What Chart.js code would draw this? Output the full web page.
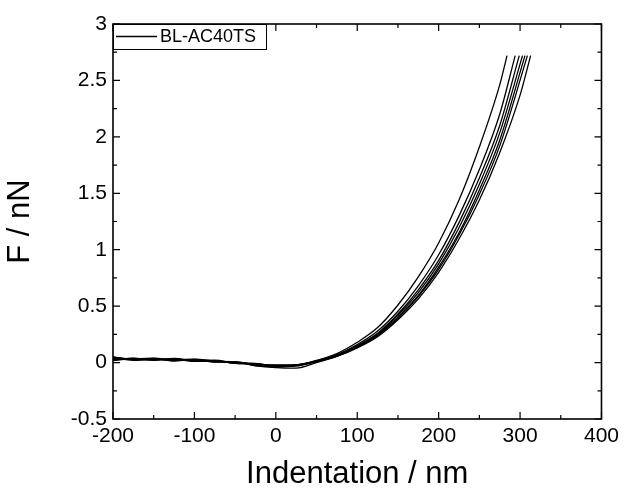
<!DOCTYPE html>
<html>
<head>
<meta charset="utf-8">
<script src="https://cdn.jsdelivr.net/npm/chart.js@4"></script>
<style>
  body { margin: 0; background: #fff; }
  #wrap { width: 624px; height: 493px; }
</style>
</head>
<body>
<div id="wrap"><canvas id="chart" width="624" height="493"></canvas></div>
<script>
// indentation grid (nm), shared by all curves
const X_GRID = [-200, -175, -150, -125, -100, -75, -50, -25, 0, 25, 50, 75, 100, 125, 150, 175, 200, 225, 250, 275, 300];

// force (nN) per curve
const CURVE_A = [0.045, 0.03, 0.04, 0.025, 0.03, 0.012, 0.005, -0.015, -0.02, -0.02, 0.02, 0.08, 0.18, 0.31, 0.51, 0.76, 1.06, 1.44, 1.91, 2.46];
const CURVE_B = [0.02, 0.04, 0.02, 0.035, 0.012, 0.022, -0.004, -0.008, -0.035, -0.02, 0.015, 0.07, 0.16, 0.28, 0.455, 0.68, 0.955, 1.30, 1.71, 2.20];
const CURVE_C = [0.05, 0.025, 0.035, 0.015, 0.028, 0.006, 0.002, -0.026, -0.03, -0.025, 0.013, 0.065, 0.15, 0.26, 0.43, 0.645, 0.905, 1.24, 1.635, 2.10];
const CURVE_D = [0.025, 0.038, 0.022, 0.03, 0.01, 0.018, -0.008, -0.012, -0.04, -0.03, 0.01, 0.06, 0.145, 0.25, 0.42, 0.62, 0.875, 1.195, 1.58, 2.035];
const CURVE_E = [0.04, 0.02, 0.03, 0.02, 0.026, 0.004, 0.004, -0.028, -0.045, -0.05, 0.0, 0.058, 0.14, 0.245, 0.405, 0.595, 0.845, 1.15, 1.53, 1.97];
const CURVE_F = [0.018, 0.035, 0.038, 0.016, 0.024, 0.016, -0.006, -0.01, -0.025, -0.02, 0.01, 0.057, 0.135, 0.24, 0.39, 0.585, 0.825, 1.13, 1.49, 1.92];
const CURVE_G = [0.048, 0.028, 0.024, 0.036, 0.014, 0.01, 0.008, -0.022, -0.036, -0.03, 0.008, 0.054, 0.13, 0.23, 0.38, 0.565, 0.80, 1.095, 1.44, 1.86, 2.37];

// where each curve stops (trigger force)
const END_X = [284, 294, 299, 303, 306, 309, 313];
const END_F = 2.72;

const CURVES = [CURVE_A, CURVE_B, CURVE_C, CURVE_D, CURVE_E, CURVE_F, CURVE_G];
const LEGEND_LABEL = 'BL-AC40TS';

const X_TICKS = [-200, -100, 0, 100, 200, 300, 400];
const Y_TICKS = [-0.5, 0, 0.5, 1, 1.5, 2, 2.5, 3];

function makePoints(ys, endX) {
    const pts = ys.map((y, i) => ({ x: X_GRID[i], y: y }));
    pts.push({ x: endX, y: END_F });
    return pts;
}

const datasets = CURVES.map((ys, i) => ({
    label: i === 0 ? LEGEND_LABEL : '',
    data: makePoints(ys, END_X[i]),
    borderColor: '#000',
    borderWidth: 1.3,
    pointRadius: 0,
    fill: false,
    cubicInterpolationMode: 'monotone'
}));

// frame with inward ticks on all four sides + inset legend
const framePlugin = {
    id: 'frame',
    afterDraw(chart) {
        const ctx = chart.ctx;
        const a = chart.chartArea;
        const xs = chart.scales.x, ys = chart.scales.y;
        ctx.save();
        ctx.strokeStyle = '#000';
        ctx.lineWidth = 1.6;
        ctx.strokeRect(a.left, a.top, a.right - a.left, a.bottom - a.top);
        ctx.lineWidth = 1.2;
        ctx.beginPath();
        for (let v = -200; v <= 400; v += 50) {
            const px = xs.getPixelForValue(v);
            const len = v % 100 === 0 ? 7 : 4;
            ctx.moveTo(px, a.bottom); ctx.lineTo(px, a.bottom - len);
            ctx.moveTo(px, a.top); ctx.lineTo(px, a.top + len);
        }
        for (let v = -0.5; v <= 3.001; v += 0.25) {
            const py = ys.getPixelForValue(v);
            const len = Math.abs(v * 2 - Math.round(v * 2)) < 1e-6 ? 7 : 4;
            ctx.moveTo(a.left, py); ctx.lineTo(a.left + len, py);
            ctx.moveTo(a.right, py); ctx.lineTo(a.right - len, py);
        }
        ctx.stroke();

        // legend box
        const lx = a.left, ly = a.top, lw = 153, lh = 25;
        ctx.fillStyle = '#fff';
        ctx.fillRect(lx, ly, lw, lh);
        ctx.lineWidth = 1;
        ctx.strokeRect(lx + 0.5, ly + 0.5, lw, lh);
        ctx.lineWidth = 1.5;
        ctx.beginPath();
        ctx.moveTo(lx + 3, ly + 12.5);
        ctx.lineTo(lx + 44, ly + 12.5);
        ctx.stroke();
        ctx.fillStyle = '#000';
        ctx.font = '18px "Liberation Sans", Arial, sans-serif';
        ctx.textBaseline = 'middle';
        ctx.fillText(chart.data.datasets[0].label, lx + 47, ly + 13);
        ctx.restore();
    }
};

const tickFont = { family: '"Liberation Sans", Arial, sans-serif', size: 21 };
const titleFont = { family: '"Liberation Sans", Arial, sans-serif', size: 31 };

const config = {
    type: 'line',
    data: { datasets: datasets },
    options: {
        responsive: false,
        animation: false,
        events: [],
        layout: { padding: { left: 0, right: 19, top: 24, bottom: 0 } },
        plugins: {
            legend: { display: false },
            tooltip: { enabled: false }
        },
        scales: {
            x: {
                type: 'linear',
                min: -200,
                max: 400,
                afterBuildTicks: s => { s.ticks = X_TICKS.map(v => ({ value: v })); },
                afterFit: s => { s.height = 74; },
                grid: { display: false, drawTicks: false },
                border: { display: false },
                ticks: { color: '#000', font: tickFont, padding: 5, maxRotation: 0, callback: v => String(v) },
                title: { display: true, text: 'Indentation / nm', color: '#000', font: titleFont, padding: { top: 0, bottom: 0 } }
            },
            y: {
                type: 'linear',
                min: -0.5,
                max: 3,
                afterBuildTicks: s => { s.ticks = Y_TICKS.map(v => ({ value: v })); },
                afterFit: s => { s.width = 113; },
                grid: { display: false, drawTicks: false },
                border: { display: false },
                ticks: { color: '#000', font: tickFont, padding: 6, callback: v => String(v) },
                title: { display: true, text: 'F / nN', color: '#000', font: titleFont, padding: { top: 2, bottom: 0 } }
            }
        }
    },
    plugins: [framePlugin]
};

const ctx = document.getElementById('chart').getContext('2d');
const forceChart = new Chart(ctx, config);
</script>
</body>
</html>
